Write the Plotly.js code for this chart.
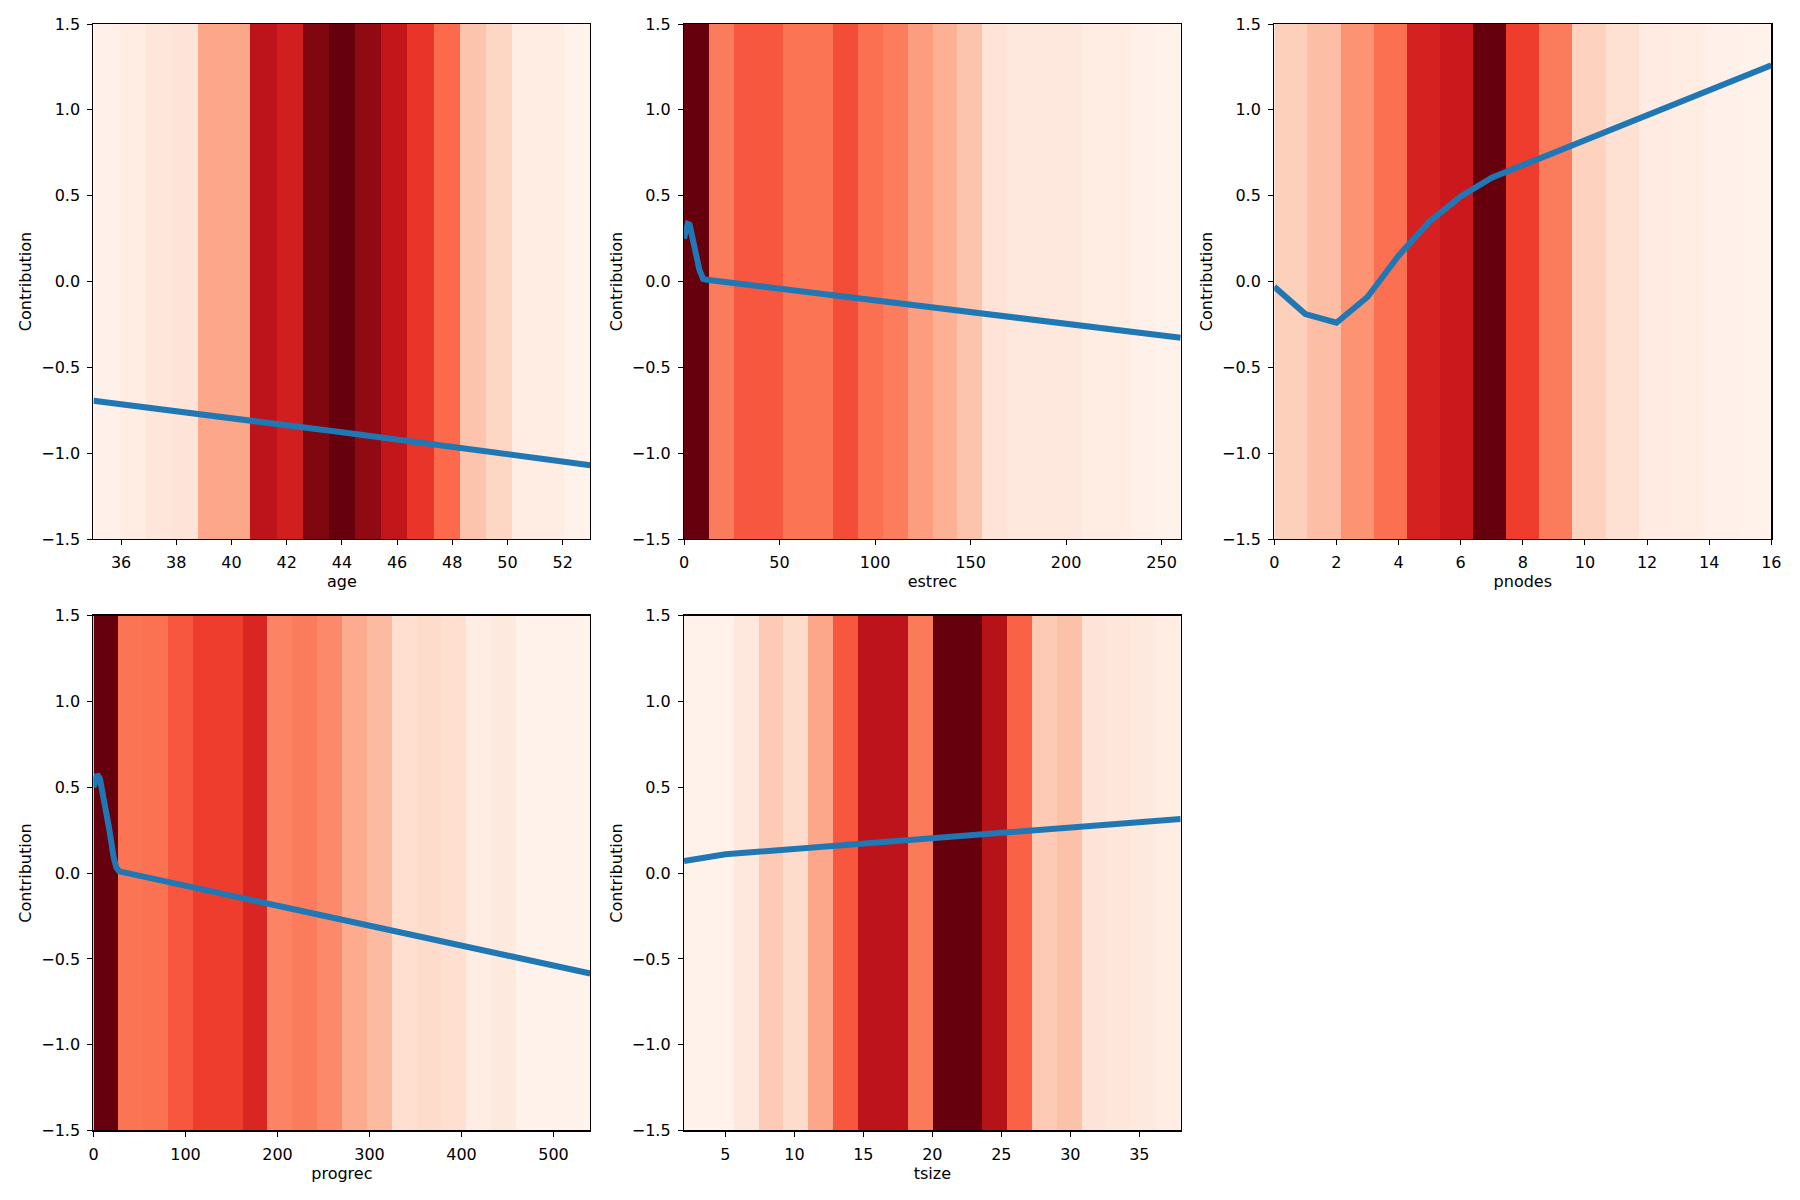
<!DOCTYPE html>
<html>
<head>
<meta charset="utf-8">
<script src="https://cdn.plot.ly/plotly-3.0.1.min.js"></script>
<style>
  html, body { margin: 0; padding: 0; background: #ffffff; }
  #chart { width: 1800px; height: 1200px; }
</style>
</head>
<body>
<div id="chart"></div>
<script>
// ---------- data ----------
const features = ["age", "estrec", "pnodes", "progrec", "tsize"];

// background density strips: bin edges and relative density (0..1)
const ageEdges = [35, 35.95, 36.89, 37.84, 38.79, 39.74, 40.68, 41.63, 42.58, 43.53, 44.47, 45.42, 46.37, 47.32, 48.26, 49.21, 50.16, 51.11, 52.05, 53];
const ageDensity = [0.03, 0.05, 0.09, 0.10, 0.31, 0.31, 0.80, 0.73, 0.95, 1.00, 0.92, 0.78, 0.65, 0.50, 0.22, 0.16, 0.05, 0.05, 0.02];

const estrecEdges = [0, 13, 26, 39, 52, 65, 78, 91, 104, 117, 130, 143, 156, 169, 182, 195, 208, 221, 234, 247, 260];
const estrecDensity = [1.00, 0.445, 0.55, 0.55, 0.465, 0.465, 0.58, 0.48, 0.44, 0.34, 0.285, 0.22, 0.11, 0.08, 0.08, 0.075, 0.05, 0.05, 0.03, 0.02];

const pnodesEdges = [0, 1.067, 2.133, 3.2, 4.267, 5.333, 6.4, 7.467, 8.533, 9.6, 10.667, 11.733, 12.8, 13.867, 14.933, 16];
const pnodesDensity = [0.18, 0.24, 0.37, 0.48, 0.715, 0.75, 1.00, 0.62, 0.445, 0.17, 0.12, 0.06, 0.05, 0.03, 0.02];

const progrecEdges = [0, 27, 54, 81, 108, 135, 162, 189, 216, 243, 270, 297, 324, 351, 378, 405, 432, 459, 486, 513, 540];
const progrecDensity = [1.00, 0.465, 0.475, 0.55, 0.62, 0.62, 0.70, 0.42, 0.445, 0.40, 0.30, 0.25, 0.13, 0.14, 0.13, 0.05, 0.07, 0.02, 0.02, 0.02];

const tsizeEdges = [2, 3.8, 5.6, 7.4, 9.2, 11, 12.8, 14.6, 16.4, 18.2, 20, 21.8, 23.6, 25.4, 27.2, 29, 30.8, 32.6, 34.4, 36.2, 38];
const tsizeDensity = [0.02, 0.02, 0.08, 0.20, 0.14, 0.31, 0.55, 0.80, 0.80, 0.45, 1.00, 1.00, 0.82, 0.52, 0.20, 0.23, 0.10, 0.09, 0.07, 0.05];

// contribution curves
const ageX = [35, 44, 53];
const ageY = [-0.695, -0.878, -1.07];

const estrecX = [0, 1, 2, 3, 4, 6, 8, 10, 12, 260];
const estrecY = [0.25, 0.31, 0.335, 0.33, 0.28, 0.165, 0.07, 0.015, 0.01, -0.328];

const pnodesX = [0, 1, 2, 3, 4, 5, 6, 7, 16];
const pnodesY = [-0.03, -0.19, -0.24, -0.09, 0.15, 0.35, 0.495, 0.605, 1.26];

const progrecX = [0, 2, 4, 7, 9, 12, 17, 22, 25, 28, 540];
const progrecY = [0.50, 0.55, 0.575, 0.55, 0.50, 0.41, 0.26, 0.09, 0.03, 0.01, -0.585];

const tsizeX = [2, 3, 4, 5, 38];
const tsizeY = [0.07, 0.085, 0.10, 0.11, 0.315];

// axis ranges and ticks
const xRanges = [[35, 53], [0, 260], [0, 16], [0, 540], [2, 38]];
const xTicks = [
  [36, 38, 40, 42, 44, 46, 48, 50, 52],
  [0, 50, 100, 150, 200, 250],
  [0, 2, 4, 6, 8, 10, 12, 14, 16],
  [0, 100, 200, 300, 400, 500],
  [5, 10, 15, 20, 25, 30, 35]
];
const yRange = [-1.5, 1.5];
const yTicks = [-1.5, -1.0, -0.5, 0.0, 0.5, 1.0, 1.5];
const yLabel = "Contribution";

// ---------- layout geometry ----------
const colDomains = [[0.05194, 0.32794], [0.38, 0.65594], [0.70794, 0.98406]];
const rowDomains = [[0.55083, 0.98], [0.05792, 0.48692]];
const slots = [[0, 0], [1, 0], [2, 0], [0, 1], [1, 1]];

const redsScale = [
  [0.0, "#fff5f0"], [0.125, "#fee0d2"], [0.25, "#fcbba1"], [0.375, "#fc9272"],
  [0.5, "#fb6a4a"], [0.625, "#ef3b2c"], [0.75, "#cb181d"], [0.875, "#a50f15"], [1.0, "#67000d"]
];

const edges = [ageEdges, estrecEdges, pnodesEdges, progrecEdges, tsizeEdges];
const dens = [ageDensity, estrecDensity, pnodesDensity, progrecDensity, tsizeDensity];
const lx = [ageX, estrecX, pnodesX, progrecX, tsizeX];
const ly = [ageY, estrecY, pnodesY, progrecY, tsizeY];

const traces = [];
const layout = {
  width: 1800, height: 1200,
  margin: {l: 0, r: 0, t: 0, b: 0},
  paper_bgcolor: "#ffffff", plot_bgcolor: "#ffffff",
  showlegend: false,
  font: {family: "DejaVu Sans, sans-serif", size: 16, color: "#000000"}
};

const fontTick = {family: "DejaVu Sans, sans-serif", size: 16, color: "#000000"};

for (let i = 0; i < features.length; i++) {
  const n = i === 0 ? "" : String(i + 1);
  const xa = "x" + n, ya = "y" + n;
  traces.push({
    type: "heatmap",
    x: edges[i], y: yRange, z: [dens[i]],
    zmin: 0, zmax: 1, colorscale: redsScale, showscale: false, zsmooth: false,
    xaxis: xa, yaxis: ya, hoverinfo: "skip"
  });
  traces.push({
    type: "scatter", mode: "lines",
    x: lx[i], y: ly[i],
    line: {color: "#1f77b4", width: 6},
    xaxis: xa, yaxis: ya
  });
  const [c, r] = slots[i];
  layout["xaxis" + n] = {
    domain: colDomains[c], anchor: ya, range: xRanges[i],
    tickvals: xTicks[i], ticks: "outside", ticklen: 5, tickwidth: 1, tickcolor: "#000",
    ticklabelstandoff: 4,
    showline: true, mirror: true, linecolor: "#000", linewidth: 1.2,
    showgrid: false, zeroline: false, tickfont: fontTick,
    title: {text: features[i], font: {family: "DejaVu Sans, sans-serif", size: 16, color: "#000"}, standoff: 3}
  };
  layout["yaxis" + n] = {
    domain: rowDomains[r], anchor: xa, range: yRange,
    tickvals: yTicks, tickformat: ".1f", ticks: "outside", ticklen: 5, tickwidth: 1, tickcolor: "#000",
    ticklabelstandoff: 4,
    showline: true, mirror: true, linecolor: "#000", linewidth: 1.2,
    showgrid: false, zeroline: false, tickfont: fontTick,
    title: {text: yLabel, font: {family: "DejaVu Sans, sans-serif", size: 16, color: "#000"}, standoff: 5}
  };
}

Plotly.newPlot("chart", traces, layout, {staticPlot: true, displayModeBar: false});
</script>
</body>
</html>
